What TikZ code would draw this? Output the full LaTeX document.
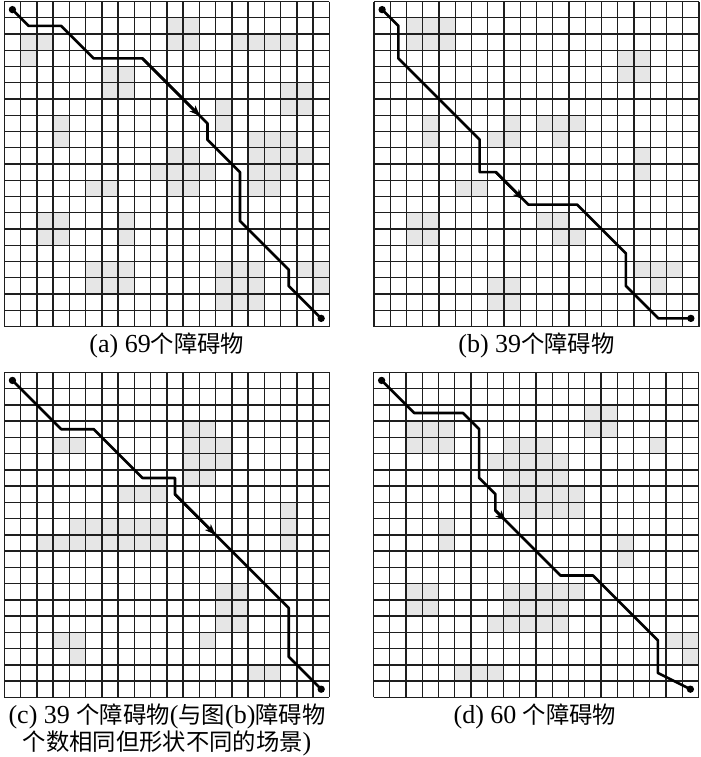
\documentclass[tikz,border=0pt]{standalone}
\usepackage{fontspec}
\setmainfont{Liberation Serif}
\newfontfamily\cjkfont{Noto Sans CJK SC}
\usetikzlibrary{arrows.meta}
\definecolor{obstc}{RGB}{230,230,230}
\definecolor{linec}{RGB}{30,30,30}
\newcommand\cj[1]{{\cjkfont\fontsize{17.5pt}{21pt}\selectfont #1}}
\tikzset{
  gridline/.style={line width=1.1pt, draw=linec},
  obst/.style={fill=obstc},
  route/.style={line width=2pt, draw=black, line join=round, line cap=round},
  tipmark/.style={line width=2pt, draw=black, -{Stealth[length=8pt,width=6pt,inset=2pt]}},
  enddot/.style={circle, fill=black, inner sep=0pt, minimum size=5.5pt},
  captext/.style={font=\fontsize{19.5pt}{20.25pt}\selectfont, inner sep=0pt, align=center}
}
\newcommand\obstacles[1]{%
  \foreach \r/\cs in {#1} {\foreach \c in \cs {\fill[obst] (\c,\r) rectangle ++(1,1);}}}
\newcommand\gridlines{%
  \foreach \i in {0,...,20} {\draw[gridline] (\i,0) -- (\i,20); \draw[gridline] (0,\i) -- (20,\i);}}
\begin{document}
\begin{tikzpicture}[x=0.75pt, y=-0.75pt]
\useasboundingbox (0,0) rectangle (700,757);

% ---------- (a) ----------
\begin{scope}[shift={(4.3,1.5)}, x=12.1875pt, y=-12.1875pt]
  \obstacles{1/{10,11}, 2/{1,2,10,11,14,15,16,17}, 3/{1}, 4/{6,7}, 5/{6,7,17,18},
    6/{13,17,18}, 7/{3,13}, 8/{3,15,16,17}, 9/{10,11,15,16,17,18},
    10/{9,10,11,12,15,16,17}, 11/{5,6,10,11,15,16}, 13/{2,3,7}, 14/{2,3,7},
    16/{5,6,7,13,14,15,18,19}, 17/{5,6,7,13,14,15,19}, 18/{13,14,15}}
  \gridlines
  \node[enddot] (aS) at (0.5,0.5) {};
  \node[enddot] (aE) at (19.5,19.5) {};
  \draw[route] (aS.center) -- (1.5,1.5) -- (3.5,1.5) -- (5.5,3.5) -- (8.5,3.5) -- (12.5,7.5)
    -- (12.5,8.5) -- (14.5,10.5) -- (14.5,13.5) -- (17.5,16.5) -- (17.5,17.5) -- (aE.center);
  \draw[tipmark] (8.5,3.5) -- (12.05,7.05);
\end{scope}

% ---------- (b) ----------
\begin{scope}[shift={(374,1.5)}, x=12.1875pt, y=-12.1875pt]
  \obstacles{1/{2,3,4}, 2/{2,3,4}, 3/{15,16}, 4/{15,16}, 7/{3,8,10,11,12},
    8/{3,7,8,11}, 9/{16}, 10/{16}, 11/{5,6}, 13/{2,3,10,11}, 14/{2,3,11,12},
    16/{16,17,18}, 17/{7,8,17}, 18/{7,8}}
  \gridlines
  \node[enddot] (bS) at (0.5,0.5) {};
  \node[enddot] (bE) at (19.5,19.5) {};
  \draw[route] (bS.center) -- (1.5,1.5) -- (1.5,3.5) -- (6.5,8.5) -- (6.5,10.5) -- (7.5,10.5)
    -- (9.5,12.5) -- (12.5,12.5) -- (15.5,15.5) -- (15.5,17.5) -- (17.5,19.5) -- (bE.center);
  \draw[tipmark] (7.5,10.5) -- (9.2,12.2);
\end{scope}

% ---------- (c) ----------
\begin{scope}[shift={(4.3,372.3)}, x=12.1875pt, y=-12.1875pt]
  \obstacles{3/{11,12}, 4/{3,4,11,12,13}, 5/{11,12,13}, 6/{11,12}, 7/{7,8,9},
    8/{17}, 9/{4,5,6,7,8,9,17}, 10/{2,3,4,5,6,7,8,9,17}, 13/{13,14}, 14/{13,14},
    15/{13,14}, 16/{3,4,12}, 17/{4}, 18/{15,16}}
  \gridlines
  \node[enddot] (cS) at (0.5,0.5) {};
  \node[enddot] (cE) at (19.5,19.5) {};
  \draw[route] (cS.center) -- (3.5,3.5) -- (5.5,3.5) -- (8.5,6.5) -- (10.5,6.5) -- (10.5,7.5)
    -- (17.5,14.5) -- (17.5,17.5) -- (cE.center);
  \draw[tipmark] (10.5,7.5) -- (13,10);
\end{scope}

% ---------- (d) ----------
\begin{scope}[shift={(373.5,372.3)}, x=12.1875pt, y=-12.1875pt]
  \obstacles{2/{13,14}, 3/{2,3,4,13,14}, 4/{2,3,4,8,9,10,17}, 5/{7,8,9,10,11},
    6/{8,9,10,11}, 7/{8,9,10,11,12}, 8/{9,10,11,12}, 9/{4}, 10/{4,15}, 11/{15},
    13/{2,3,8,9,10,11,12}, 14/{2,3,8,9,10,11}, 15/{7,8,9,10,11}, 16/{18,19},
    17/{19}, 18/{5,6,7}}
  \gridlines
  \node[enddot] (dS) at (0.5,0.5) {};
  \node[enddot] (dE) at (19.5,19.5) {};
  \draw[route] (dS.center) -- (2.5,2.5) -- (5.5,2.5) -- (6.5,3.5) -- (6.5,6.5) -- (7.5,7.5)
    -- (7.5,8.5) -- (11.5,12.5) -- (13.5,12.5) -- (17.5,16.5) -- (17.5,18.5) -- (dE.center);
  \draw[tipmark] (7.5,8.5) -- (8.15,9.15);
\end{scope}

% ---------- captions ----------
\node[captext] (capa) at (166.8,345) {(a) 69\cj{个障碍物}};
\node[captext] (capb) at (536.5,345) {(b) 39\cj{个障碍物}};
\node[captext] (capc) at (167,729.5) {(c) 39 \cj{个障碍物}(\cj{与图}(b)\cj{障碍物}\\\cj{个数相同但形状不同的场景})};
\node[captext] (capd) at (535,716) {(d) 60 \cj{个障碍物}};
\end{tikzpicture}
\end{document}
